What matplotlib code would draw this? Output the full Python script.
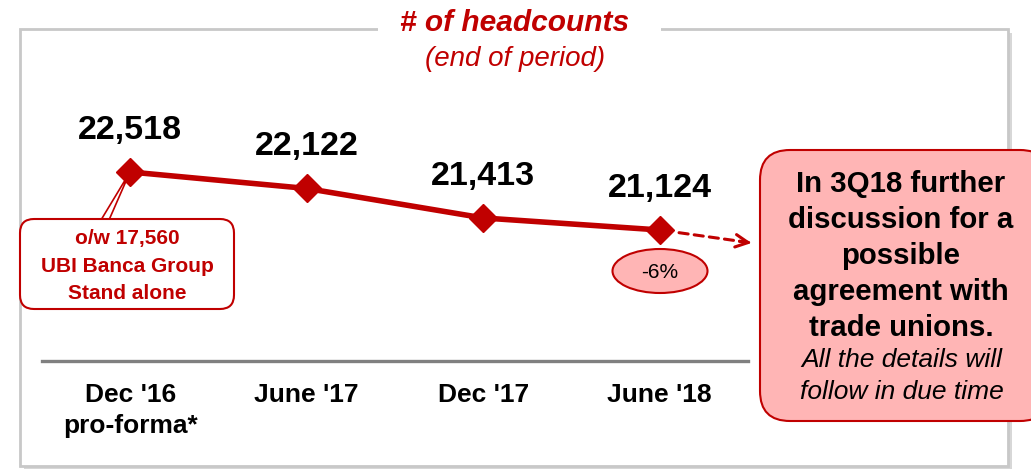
import matplotlib
matplotlib.use("Agg")
import matplotlib.pyplot as plt
from matplotlib.patches import FancyBboxPatch, Ellipse, Rectangle, Polygon

# -------------------------------------------------------------
# Data
# -------------------------------------------------------------
periods = ["Dec '16\npro-forma*", "June '17", "Dec '17", "June '18"]
headcounts = [22518, 22122, 21413, 21124]
value_labels = ["22,518", "22,122", "21,413", "21,124"]
note_standalone = "o/w 17,560\nUBI Banca Group\nStand alone"
change_label = "-6%"
callout_bold = "In 3Q18 further\ndiscussion for a\npossible\nagreement with\ntrade unions."
callout_italic = "All the details will\nfollow in due time"

RED = "#C00000"
PINK = "#FFB5B5"
plt.rcParams['font.family'] = ['Liberation Sans', 'DejaVu Sans']

W, H = 1031, 470
fig = plt.figure(figsize=(W / 100, H / 100), dpi=100)
fig.patch.set_facecolor("white")

# pixel-space layer for the frame and callouts
deco = fig.add_axes([0, 0, 1, 1])
deco.set_xlim(0, W)
deco.set_ylim(H, 0)
deco.axis("off")

# frame with a soft shadow
deco.add_patch(Rectangle((24, 33), 988, 436, facecolor="#bdbdbd", edgecolor="none", alpha=0.6))
deco.add_patch(Rectangle((20, 29), 988, 437, facecolor="white", edgecolor="#c8c8c8", lw=2))
deco.add_patch(Rectangle((378, 24), 283, 9, facecolor="white", edgecolor="none"))

deco.text(515, 23, "# of headcounts", ha="center", va="center", color=RED,
          fontsize=21.5, fontweight="bold", fontstyle="italic")
deco.text(515, 59, "(end of period)", ha="center", va="center", color=RED,
          fontsize=20, fontstyle="italic")

# -------------------------------------------------------------
# Line chart
# -------------------------------------------------------------
ax = fig.add_axes([42 / W, 1 - 361 / H, 706 / W, 261 / H])
ax.patch.set_alpha(0)
x = list(range(len(periods)))
ax.set_xlim(-0.5, 3.5)
ax.set_ylim(17974, 24249)
ax.plot(x, headcounts, color=RED, lw=4, marker="D", markersize=14, zorder=5)
for xi, yi, lab in zip(x, headcounts, value_labels):
    ax.annotate(lab, (xi, yi), xytext=(0, 30), textcoords="offset points",
                ha="center", va="center", fontsize=24.5, fontweight="bold", color="black")

for s in ["top", "left", "right"]:
    ax.spines[s].set_visible(False)
ax.spines["bottom"].set_color("#808080")
ax.spines["bottom"].set_linewidth(2.4)
ax.set_yticks([])
ax.set_xticks(x)
ax.set_xticklabels(periods, fontsize=19, fontweight="bold", linespacing=1.35)
ax.tick_params(axis="x", length=0, pad=16)

# dashed arrow from last point
ax.annotate("", xy=(x[-1], headcounts[-1]), xytext=(64, -9), textcoords="offset points",
            arrowprops=dict(arrowstyle="-", color=RED, lw=2.2, linestyle=(0, (3, 2)),
                            shrinkA=0, shrinkB=10))
ax.annotate("", xy=(x[-1], headcounts[-1]), xytext=(66, -9.4), textcoords="offset points",
            arrowprops=dict(arrowstyle="<-,head_length=0.9,head_width=0.45", color=RED, lw=2.2,
                            shrinkA=0, shrinkB=58))

# -------------------------------------------------------------
# Callouts
# -------------------------------------------------------------
deco.add_patch(Polygon([(101, 220), (130, 172), (109, 220)], closed=True,
                       facecolor="white", edgecolor=RED, lw=1.2, zorder=3))
deco.add_patch(FancyBboxPatch((20, 219), 214, 90, boxstyle="round,pad=0,rounding_size=14",
                              facecolor="white", edgecolor=RED, lw=1.5, zorder=4))
deco.text(127, 266, note_standalone, ha="center", va="center", color=RED,
          fontsize=15, fontweight="bold", linespacing=1.55, zorder=5)

deco.add_patch(Ellipse((660, 271), 95, 44, facecolor=PINK, edgecolor=RED, lw=1.5, zorder=4))
deco.text(660, 272, change_label, ha="center", va="center", fontsize=15, color="black", zorder=5)

deco.add_patch(FancyBboxPatch((760, 150), 290, 271, boxstyle="round,pad=0,rounding_size=30",
                              facecolor=PINK, edgecolor=RED, lw=1.5, zorder=4, clip_on=False))
deco.text(901, 256, callout_bold, ha="center", va="center", color="black",
          fontsize=21.2, fontweight="bold", linespacing=1.37, zorder=5)
deco.text(902, 376, callout_italic, ha="center", va="center", color="black",
          fontsize=19, fontstyle="italic", linespacing=1.4, zorder=5)

fig.savefig("out.png", dpi=100)
